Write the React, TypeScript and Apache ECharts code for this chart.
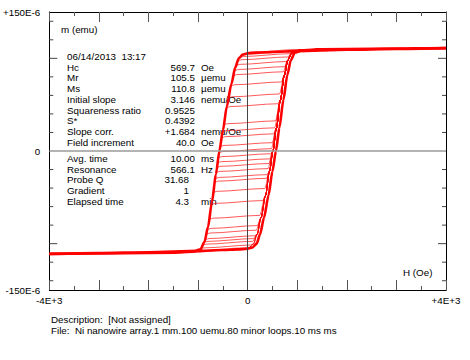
import React, { useEffect, useRef } from 'react';
import * as echarts from 'echarts';

// Major loop, descending branch (H in Oe, m in µemu)
const descH = [4000, 3000, 2000, 1000, 500, 200, 0, -100, -180, -250, -330, -420, -500, -570, -640, -720, -800, -870, -950, -1100, -1500, -2500, -4000];
const descM = [111, 110.2, 109.2, 107.8, 106.8, 106.2, 105.5, 104, 100, 90, 72, 48, 22, 0, -25, -55, -82, -98, -106, -108.8, -109.8, -110.4, -111];
// Major loop, ascending branch
const ascH = [-4000, -3000, -2000, -1000, -500, -200, 0, 100, 180, 250, 330, 420, 500, 570, 640, 720, 800, 870, 950, 1100, 1500, 2500, 4000];
const ascM = [-111, -110.2, -109.2, -107.8, -106.8, -106.2, -105.5, -104, -100, -90, -72, -48, -22, 0, 25, 55, 82, 98, 106, 108.8, 109.8, 110.4, 111];

// Minor loops: reversal point, plateau level, bend field
const minorStartH = [-33, -120, -170, -201, -236, -266, -290, -338, -386, -425, -482, -505, -525, -556, -576, -591, -606, -620, -636, -653, -664, -693, -729, -776, -813, -835, -861, -880, -910, -940, -1025, -1250];
const minorStartM = [105, 103, 100.5, 97, 92, 86.5, 81, 70, 57, 46.5, 28, 20.5, 14, 4.5, -2, -7.5, -13, -18, -23.5, -30, -34, -45, -58, -74, -85, -90, -96, -99, -102, -105, -107.5, -109.2];
const minorLevel = [108, 106, 103.5, 100, 95, 89.5, 84, 73, 60, 49.5, 31, 23.5, 17, 7.5, 1, -4.5, -10, -15, -20.5, -27, -31, -42, -55, -71, -82, -87, -93, -96, -99, -103, -106, -108];
const minorBendH = [1000, 950, 850, 810, 766, 742, 717, 679, 641, 611, 561, 541, 523, 497, 478, 462, 445, 429, 411, 391, 378, 345, 301, 241, 194, 172, 143, 122, 101, 60, -60, -300];

// Axis ticks / labels
const xLabelValues = [-4000, 0, 4000];
const xLabelTexts = ['-4E+3', '0', '+4E+3'];
const yLabelValues = [-150, 0, 150];
const yLabelTexts = ['-150E-6', '0', '+150E-6'];
const yTickValues = [-140, -120, -100, -80, -60, -40, -20, 20, 40, 60, 80, 100, 120, 140];

// Info block
const headerText = '06/14/2013  13:17';
const infoLabels1 = ['Hc', 'Mr', 'Ms', 'Initial slope', 'Squareness ratio', 'S*', 'Slope corr.', 'Field increment'];
const infoValues1 = ['569.7', '105.5', '110.8', '3.146', '0.9525', '0.4392', '+1.684', '40.0'];
const infoUnits1 = ['Oe', 'µemu', 'µemu', 'nemu/Oe', '', '', 'nemu/Oe', 'Oe'];
const infoLabels2 = ['Avg. time', 'Resonance', 'Probe Q', 'Gradient', 'Elapsed time'];
const infoValues2 = ['10.00', '566.1', '31.68', '1', '4.3'];
const infoUnits2 = ['ms', 'Hz', '', '', 'min'];
const descriptionText = 'Description:  [Not assigned]';
const fileText = 'File:  Ni nanowire array.1 mm.100 uemu.80 minor loops.10 ms ms';

const FONT = 'Liberation Sans, Arial, sans-serif';
const FS = 9.8;

function buildMinor(i: number): number[][] {
  const hr = minorStartH[i];
  const p = minorLevel[i];
  const hb = minorBendH[i];
  const pts: number[][] = [[hr, minorStartM[i]], [hr + 80, p - 1.5], [hb, p + 1.5]];
  for (let k = 0; k < ascH.length; k++) {
    const h = ascH[k] < 1200 ? ascH[k] - 60 : ascH[k];
    if (ascM[k] > p + 1.5 && h > hb + 10 && ascH[k] < 4000) pts.push([h, ascM[k]]);
  }
  pts.push([4000, ascM[ascM.length - 1]]);
  return pts;
}

function textEl(text: string, x: number, y: number, align: string = 'left') {
  return {
    type: 'text',
    x,
    y,
    silent: true,
    style: {
      text,
      fill: '#000',
      fontSize: FS,
      fontFamily: FONT,
      align,
      textAlign: align,
      verticalAlign: 'middle',
      textVerticalAlign: 'middle',
    },
  };
}

export default function App() {
  const ref = useRef<HTMLDivElement>(null);
  useEffect(() => {
    document.body.style.margin = '0';
    if (!ref.current) return;
    const chart = echarts.init(ref.current, null, { renderer: 'svg' });

    const series: any[] = [];
    series.push({
      type: 'line',
      data: descH.map((h, i) => [h, descM[i]]),
      showSymbol: false,
      symbol: 'none',
      smooth: 0.25,
      smoothMonotone: 'x',
      lineStyle: { color: '#ff0000', width: 2.6 },
      z: 4,
      markLine: {
        silent: true,
        symbol: ['none', 'none'],
        label: { show: false },
        data: [
          { yAxis: 0, lineStyle: { color: '#9a9a9a', width: 1.6, type: 'solid' } },
          { xAxis: 0, lineStyle: { color: '#444', width: 1, type: 'solid' } },
        ],
      },
    });
    series.push({
      type: 'line',
      data: ascH.map((h, i) => [h, ascM[i]]),
      showSymbol: false,
      symbol: 'none',
      smooth: 0.25,
      smoothMonotone: 'x',
      lineStyle: { color: '#ff0000', width: 2.6 },
      z: 4,
    });
    for (let i = 0; i < minorLevel.length; i++) {
      series.push({
        type: 'line',
        data: buildMinor(i),
        showSymbol: false,
        symbol: 'none',
        smooth: 0.3,
        smoothMonotone: 'x',
        lineStyle: { color: 'rgba(255,0,0,0.65)', width: 1 },
        z: 3,
      });
    }
    series.push({
      type: 'custom',
      coordinateSystem: 'cartesian2d',
      silent: true,
      z: 6,
      data: yTickValues.map((v) => [-4000, v]),
      renderItem: (_p: any, api: any) => {
        const v = api.value(1);
        const l = api.coord([-4000, v]);
        const r = api.coord([4000, v]);
        const len = Math.abs(v) === 100 ? 8 : 4;
        return {
          type: 'group',
          children: [
            { type: 'line', shape: { x1: l[0], y1: l[1], x2: l[0] + len, y2: l[1] }, style: { stroke: '#444', lineWidth: 1 } },
            { type: 'line', shape: { x1: r[0], y1: r[1], x2: r[0] - len, y2: r[1] }, style: { stroke: '#444', lineWidth: 1 } },
          ],
        };
      },
    });

    const xFmt = (v: number) => {
      const k = xLabelValues.indexOf(v);
      return k >= 0 ? xLabelTexts[k] : '';
    };
    const yFmt = (v: number) => {
      const k = yLabelValues.indexOf(v);
      return k >= 0 ? yLabelTexts[k] : '';
    };

    const xBase = {
      type: 'value',
      min: -4000,
      max: 4000,
      interval: 1000,
      splitLine: { show: false },
      axisLine: { show: true, onZero: false, lineStyle: { color: '#000', width: 1 } },
      axisTick: { show: true, inside: true, length: 10, lineStyle: { color: '#555' } },
      minorTick: { show: true, splitNumber: 2, length: 4, lineStyle: { color: '#555' } },
    };
    const yBase = {
      type: 'value',
      min: -150,
      max: 150,
      interval: 50,
      splitLine: { show: false },
      axisLine: { show: true, onZero: false, lineStyle: { color: '#000', width: 1 } },
      axisTick: { show: false },
    };

    const graphics: any[] = [];
    graphics.push(textEl('m (emu)', 61, 29));
    graphics.push(textEl('H (Oe)', 403, 272));
    graphics.push(textEl(headerText, 67, 56));
    infoLabels1.forEach((t, i) => {
      const y = 67 + i * 10.75;
      graphics.push(textEl(t, 67, y));
      graphics.push(textEl(infoValues1[i], 195, y, 'right'));
      if (infoUnits1[i]) graphics.push(textEl(infoUnits1[i], 201, y));
    });
    infoLabels2.forEach((t, i) => {
      const y = 158.3 + i * 10.7;
      graphics.push(textEl(t, 67, y));
      graphics.push(textEl(infoValues2[i], i >= 2 ? 189 : 195, y, 'right'));
      if (infoUnits2[i]) graphics.push(textEl(infoUnits2[i], 201, y));
    });
    graphics.push(textEl(descriptionText, 51, 319));
    graphics.push(textEl(fileText, 51, 330));

    chart.setOption({
      animation: false,
      backgroundColor: '#fff',
      grid: { left: 49, top: 12, width: 397, height: 278, containLabel: false },
      xAxis: [
        {
          ...xBase,
          position: 'bottom',
          axisLabel: {
            show: true, formatter: xFmt, color: '#000', fontSize: FS, fontFamily: FONT, margin: 5,
            showMinLabel: true, showMaxLabel: true, hideOverlap: false,
          },
        },
        { ...xBase, position: 'top', axisLabel: { show: false } },
      ],
      yAxis: [
        {
          ...yBase,
          position: 'left',
          axisLabel: {
            show: true, formatter: yFmt, color: '#000', fontSize: FS, fontFamily: FONT, margin: 9,
            showMinLabel: true, showMaxLabel: true, hideOverlap: false,
          },
        },
        { ...yBase, position: 'right', axisLabel: { show: false } },
      ],
      series,
      graphic: graphics,
    });
    return () => chart.dispose();
  }, []);
  return <div ref={ref} style={{ width: 470, height: 360 }} />;
}
